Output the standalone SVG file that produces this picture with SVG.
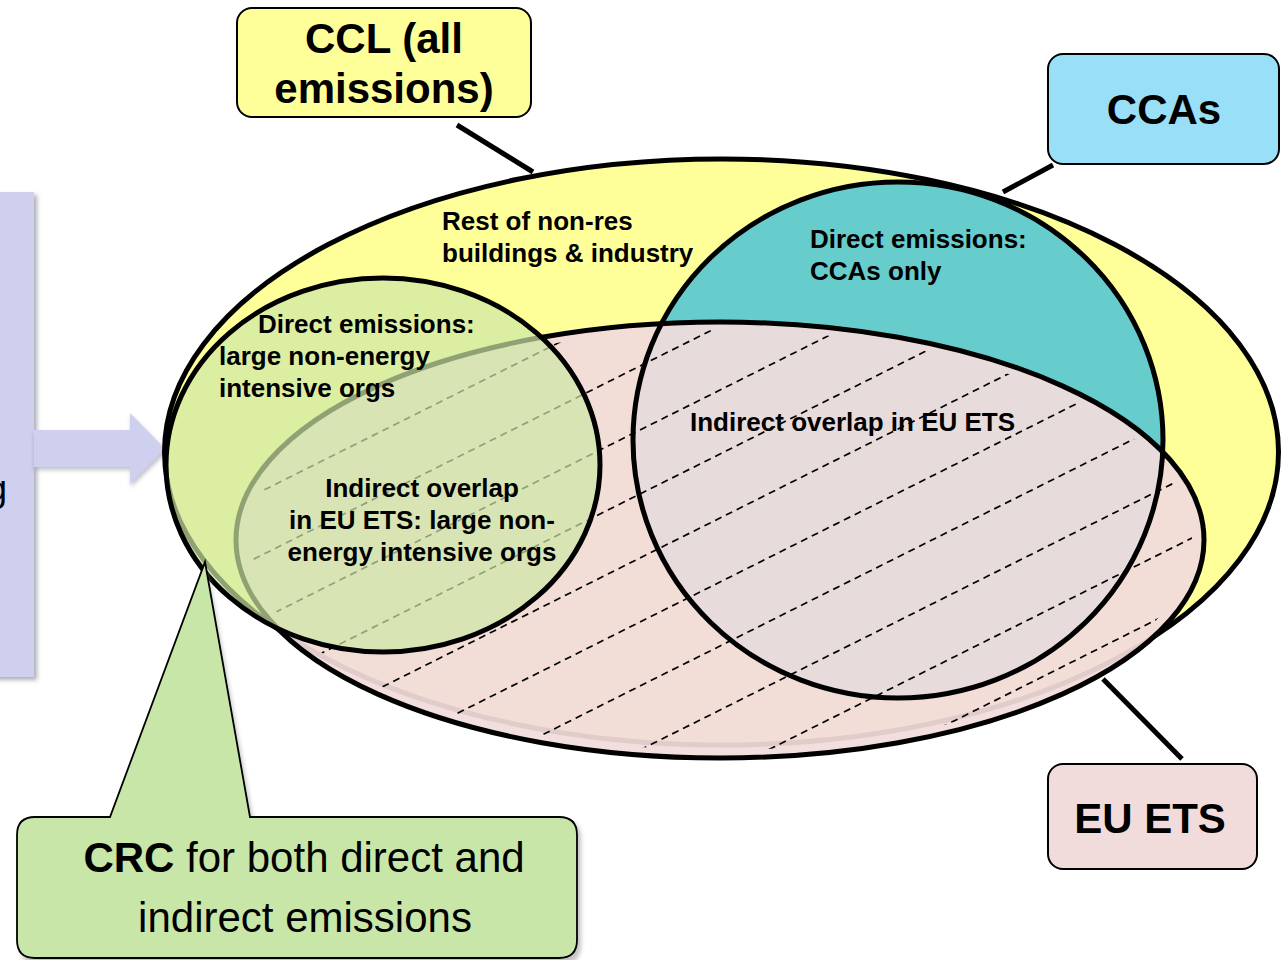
<svg xmlns="http://www.w3.org/2000/svg" width="1284" height="960" viewBox="0 0 1284 960">
<style>
.lbl{font-family:"Liberation Sans",Arial,sans-serif;font-weight:bold;font-size:26px;fill:#000}
.big{font-family:"Liberation Sans",Arial,sans-serif;font-weight:bold;font-size:42px;fill:#000}
.reg{font-family:"Liberation Sans",Arial,sans-serif;font-size:42px;fill:#000}
.box{stroke:#000;stroke-width:2}
.lead{stroke:#000;stroke-width:5;fill:none}
.outline{fill:none;stroke:#000;stroke-width:5}
.hatch{stroke:#000;stroke-width:1.7;stroke-dasharray:7 5;fill:none}
</style>
<defs>
<clipPath id="etsClip"><ellipse cx="720" cy="540" rx="472" ry="210"/></clipPath>
<filter id="soft" x="-20%" y="-20%" width="140%" height="140%"><feGaussianBlur stdDeviation="2"/></filter>
</defs>

<g id="left-panel">
<rect x="-10" y="195" width="47" height="485" fill="#9a9aa8" filter="url(#soft)" opacity="0.8"/>
<rect x="-10" y="192" width="44" height="485" fill="#CFCFEE"/>
<text x="-13" y="501" font-family="Liberation Sans, Arial, sans-serif" font-size="36" fill="#000">g</text>
</g>

<g id="arrow">
<polygon points="34,433 131,433 131,416 167,452 131,487 131,470 34,470" fill="#9a9aa8" opacity="0.6" filter="url(#soft)"/>
<polygon points="34,430 130,430 130,413 165,449 130,484 130,467 34,467" fill="#CFCFEE"/>
</g>

<g id="ccl-set">
<ellipse cx="721.5" cy="452" rx="557" ry="293" fill="#FFFF99" stroke="#000" stroke-width="5"/>
</g>

<g id="cca-set-fill">
<ellipse cx="898" cy="440" rx="265" ry="258" fill="#66CCCC"/>
</g>

<g id="eu-ets-set">
<ellipse cx="720" cy="540" rx="484" ry="218" fill="#F2DCDB" fill-opacity="0.93" stroke="#000" stroke-width="5"/>
<g clip-path="url(#etsClip)" class="hatch">
<line x1="200" y1="202" x2="1250" y2="-323"/>
<line x1="200" y1="266" x2="1250" y2="-259"/>
<line x1="200" y1="330" x2="1250" y2="-195"/>
<line x1="200" y1="394" x2="1250" y2="-131"/>
<line x1="200" y1="458" x2="1250" y2="-67"/>
<line x1="200" y1="522" x2="1250" y2="-3"/>
<line x1="200" y1="586" x2="1250" y2="61"/>
<line x1="200" y1="650" x2="1250" y2="125"/>
<line x1="200" y1="714" x2="1250" y2="189"/>
<line x1="200" y1="778" x2="1250" y2="253"/>
<line x1="200" y1="842" x2="1250" y2="317"/>
<line x1="200" y1="906" x2="1250" y2="381"/>
<line x1="200" y1="970" x2="1250" y2="445"/>
<line x1="200" y1="1034" x2="1250" y2="509"/>
<line x1="200" y1="1098" x2="1250" y2="573"/>
<line x1="200" y1="1162" x2="1250" y2="637"/>
<line x1="200" y1="1226" x2="1250" y2="701"/>
<line x1="200" y1="1290" x2="1250" y2="765"/>
</g>
</g>

<g id="cca-set-outline">
<ellipse cx="898" cy="440" rx="265" ry="258" class="outline"/>
</g>

<g id="crc-set">
<ellipse cx="383" cy="465" rx="217" ry="187" fill="#CDE7A5" fill-opacity="0.7" stroke="#000" stroke-width="5"/>
</g>

<g id="region-labels">
<text class="lbl" x="442" y="230">Rest of non-res</text>
<text class="lbl" x="442" y="262">buildings &amp; industry</text>
<text class="lbl" x="810" y="248">Direct emissions:</text>
<text class="lbl" x="810" y="280">CCAs only</text>
<text class="lbl" x="258" y="333">Direct emissions:</text>
<text class="lbl" x="219" y="365">large non-energy</text>
<text class="lbl" x="219" y="397">intensive orgs</text>
<text class="lbl" x="422" y="497" text-anchor="middle">Indirect overlap</text>
<text class="lbl" x="422" y="529" text-anchor="middle">in EU ETS: large non-</text>
<text class="lbl" x="422" y="561" text-anchor="middle">energy intensive orgs</text>
<text class="lbl" x="690" y="431">Indirect overlap in EU ETS</text>
</g>

<g id="connectors">
<line class="lead" x1="457" y1="125" x2="533" y2="172"/>
<line class="lead" x1="1053" y1="165" x2="1003" y2="192"/>
<line class="lead" x1="1103" y1="679" x2="1182" y2="759"/>
</g>

<g id="ccl-label">
<rect class="box" x="237" y="8" width="294" height="109" rx="15" fill="#FFFF99"/>
<text class="big" x="384" y="53" text-anchor="middle">CCL (all</text>
<text class="big" x="384" y="103" text-anchor="middle">emissions)</text>
</g>

<g id="ccas-label">
<rect class="box" x="1048" y="54" width="231" height="110" rx="15" fill="#99DFF7"/>
<text class="big" x="1164" y="124" text-anchor="middle">CCAs</text>
</g>

<g id="euets-label">
<rect class="box" x="1048" y="764" width="209" height="105" rx="15" fill="#F2DCDB"/>
<text class="big" x="1150" y="833" text-anchor="middle">EU ETS</text>
</g>

<g id="crc-label">
<path d="M36,820 L112,820 L207,565 L253,820 L562,820 Q581,820 581,839 L581,945 Q581,964 562,964 L36,964 Q20,964 20,945 L20,839 Q20,820 36,820 Z" fill="#888" opacity="0.5" filter="url(#soft)"/>
<path d="M35,817 L110,817 L205,562 L250,817 L559,817 Q577,817 577,835 L577,940 Q577,958 559,958 L35,958 Q17,958 17,940 L17,835 Q17,817 35,817 Z" fill="#C8E6A8" stroke="#000" stroke-width="1.8"/>
<text x="304" y="872" text-anchor="middle" class="reg"><tspan font-weight="bold">CRC</tspan> for both direct and</text>
<text x="305" y="932" text-anchor="middle" class="reg">indirect emissions</text>
</g>
</svg>
